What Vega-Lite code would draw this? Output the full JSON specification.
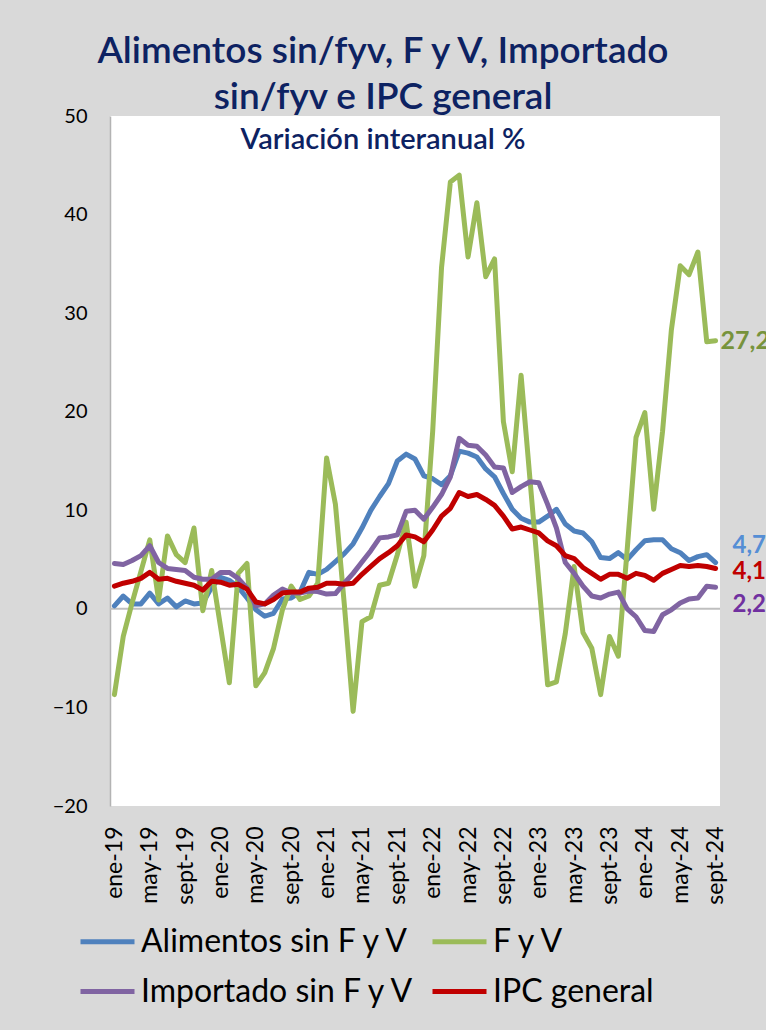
{
  "$schema": "https://vega.github.io/schema/vega-lite/v6.json",
  "width": 610,
  "height": 690,
  "autosize": {"type": "none"},
  "padding": {"left": 110, "top": 116, "right": 46, "bottom": 224},
  "background": "#d9d9d9",
  "config": {
    "view": {"fill": "white", "stroke": null},
    "font": "Lato",
    "locale": {"number": {"decimal": ",", "thousands": ".", "grouping": [3], "currency": ["", " €"]}}
  },
  "title": {
    "text": ["Alimentos sin/fyv, F y V, Importado", "sin/fyv e IPC general"],
    "subtitle": "Variación interanual %",
    "anchor": "middle",
    "dx": -32,
    "offset": -50,
    "font": "Lato",
    "fontSize": 37,
    "fontWeight": 600,
    "color": "#0d2262",
    "lineHeight": 46,
    "subtitleFont": "Lato",
    "subtitleFontSize": 29,
    "subtitleFontWeight": 600,
    "subtitleColor": "#0d2262",
    "subtitlePadding": 9
  },
  "data": {"values": [
    {"mes": "ene-19", "alimentos": 0.3, "fyv": -8.7, "importado": 4.6, "ipc": 2.3},
    {"mes": "feb-19", "alimentos": 1.3, "fyv": -2.8, "importado": 4.5, "ipc": 2.6},
    {"mes": "mar-19", "alimentos": 0.5, "fyv": 0.6, "importado": 4.9, "ipc": 2.8},
    {"mes": "abr-19", "alimentos": 0.5, "fyv": 3.8, "importado": 5.4, "ipc": 3.1},
    {"mes": "may-19", "alimentos": 1.6, "fyv": 7.0, "importado": 6.4, "ipc": 3.7},
    {"mes": "jun-19", "alimentos": 0.5, "fyv": 0.9, "importado": 4.7, "ipc": 3.0},
    {"mes": "jul-19", "alimentos": 1.1, "fyv": 7.4, "importado": 4.1, "ipc": 3.1},
    {"mes": "ago-19", "alimentos": 0.2, "fyv": 5.5, "importado": 4.0, "ipc": 2.8},
    {"mes": "sept-19", "alimentos": 0.8, "fyv": 4.7, "importado": 3.9, "ipc": 2.6},
    {"mes": "oct-19", "alimentos": 0.5, "fyv": 8.2, "importado": 3.2, "ipc": 2.4},
    {"mes": "nov-19", "alimentos": 0.6, "fyv": -0.2, "importado": 3.0, "ipc": 1.9},
    {"mes": "dic-19", "alimentos": 2.2, "fyv": 3.9, "importado": 3.0, "ipc": 2.8},
    {"mes": "ene-20", "alimentos": 3.2, "fyv": -1.8, "importado": 3.7, "ipc": 2.7},
    {"mes": "feb-20", "alimentos": 2.9, "fyv": -7.5, "importado": 3.7, "ipc": 2.4},
    {"mes": "mar-20", "alimentos": 2.2, "fyv": 3.6, "importado": 3.1, "ipc": 2.5},
    {"mes": "abr-20", "alimentos": 1.1, "fyv": 4.6, "importado": 2.1, "ipc": 2.0},
    {"mes": "may-20", "alimentos": -0.1, "fyv": -7.8, "importado": 0.3, "ipc": 0.7},
    {"mes": "jun-20", "alimentos": -0.75, "fyv": -6.5, "importado": 0.5, "ipc": 0.5},
    {"mes": "jul-20", "alimentos": -0.45, "fyv": -4.0, "importado": 1.4, "ipc": 0.95},
    {"mes": "ago-20", "alimentos": 1.0, "fyv": -0.1, "importado": 2.0, "ipc": 1.6},
    {"mes": "sept-20", "alimentos": 1.1, "fyv": 2.3, "importado": 1.6, "ipc": 1.7},
    {"mes": "oct-20", "alimentos": 1.7, "fyv": 0.95, "importado": 1.6, "ipc": 1.7},
    {"mes": "nov-20", "alimentos": 3.7, "fyv": 1.3, "importado": 1.8, "ipc": 2.1},
    {"mes": "dic-20", "alimentos": 3.5, "fyv": 2.6, "importado": 1.75, "ipc": 2.2},
    {"mes": "ene-21", "alimentos": 4.0, "fyv": 15.3, "importado": 1.5, "ipc": 2.6},
    {"mes": "feb-21", "alimentos": 4.8, "fyv": 10.6, "importado": 1.55, "ipc": 2.6},
    {"mes": "mar-21", "alimentos": 5.6, "fyv": 0.5, "importado": 2.6, "ipc": 2.5},
    {"mes": "abr-21", "alimentos": 6.6, "fyv": -10.4, "importado": 3.6, "ipc": 2.6},
    {"mes": "may-21", "alimentos": 8.2, "fyv": -1.3, "importado": 4.75, "ipc": 3.5},
    {"mes": "jun-21", "alimentos": 10.0, "fyv": -0.8, "importado": 5.9, "ipc": 4.3},
    {"mes": "jul-21", "alimentos": 11.4, "fyv": 2.4, "importado": 7.2, "ipc": 5.1},
    {"mes": "ago-21", "alimentos": 12.7, "fyv": 2.6, "importado": 7.3, "ipc": 5.7},
    {"mes": "sept-21", "alimentos": 15.0, "fyv": 5.5, "importado": 7.5, "ipc": 6.4},
    {"mes": "oct-21", "alimentos": 15.7, "fyv": 8.8, "importado": 9.9, "ipc": 7.5},
    {"mes": "nov-21", "alimentos": 15.2, "fyv": 2.3, "importado": 10.0, "ipc": 7.3},
    {"mes": "dic-21", "alimentos": 13.5, "fyv": 5.4, "importado": 9.1, "ipc": 6.8},
    {"mes": "ene-22", "alimentos": 13.2, "fyv": 18.0, "importado": 10.3, "ipc": 8.0},
    {"mes": "feb-22", "alimentos": 12.6, "fyv": 34.6, "importado": 11.6, "ipc": 9.4},
    {"mes": "mar-22", "alimentos": 13.5, "fyv": 43.3, "importado": 13.4, "ipc": 10.2},
    {"mes": "abr-22", "alimentos": 16.0, "fyv": 44.0, "importado": 17.3, "ipc": 11.8},
    {"mes": "may-22", "alimentos": 15.8, "fyv": 35.7, "importado": 16.6, "ipc": 11.4},
    {"mes": "jun-22", "alimentos": 15.4, "fyv": 41.2, "importado": 16.5, "ipc": 11.6},
    {"mes": "jul-22", "alimentos": 14.2, "fyv": 33.7, "importado": 15.6, "ipc": 11.1},
    {"mes": "ago-22", "alimentos": 13.4, "fyv": 35.5, "importado": 14.4, "ipc": 10.5},
    {"mes": "sept-22", "alimentos": 11.7, "fyv": 19.0, "importado": 14.3, "ipc": 9.4},
    {"mes": "oct-22", "alimentos": 10.1, "fyv": 13.9, "importado": 11.8, "ipc": 8.1},
    {"mes": "nov-22", "alimentos": 9.2, "fyv": 23.7, "importado": 12.4, "ipc": 8.3},
    {"mes": "dic-22", "alimentos": 8.8, "fyv": 13.2, "importado": 12.9, "ipc": 8.0},
    {"mes": "ene-23", "alimentos": 8.8, "fyv": 2.8, "importado": 12.8, "ipc": 7.7},
    {"mes": "feb-23", "alimentos": 9.4, "fyv": -7.7, "importado": 10.6, "ipc": 6.9},
    {"mes": "mar-23", "alimentos": 10.1, "fyv": -7.4, "importado": 8.2, "ipc": 6.4},
    {"mes": "abr-23", "alimentos": 8.6, "fyv": -2.5, "importado": 4.7, "ipc": 5.4},
    {"mes": "may-23", "alimentos": 7.9, "fyv": 4.3, "importado": 3.6, "ipc": 5.1},
    {"mes": "jun-23", "alimentos": 7.7, "fyv": -2.4, "importado": 2.3, "ipc": 4.2},
    {"mes": "jul-23", "alimentos": 6.8, "fyv": -4.0, "importado": 1.3, "ipc": 3.6},
    {"mes": "ago-23", "alimentos": 5.2, "fyv": -8.7, "importado": 1.1, "ipc": 3.0},
    {"mes": "sept-23", "alimentos": 5.1, "fyv": -2.8, "importado": 1.5, "ipc": 3.5},
    {"mes": "oct-23", "alimentos": 5.7, "fyv": -4.8, "importado": 1.7, "ipc": 3.5},
    {"mes": "nov-23", "alimentos": 5.0, "fyv": 6.0, "importado": 0.0, "ipc": 3.1},
    {"mes": "dic-23", "alimentos": 6.0, "fyv": 17.4, "importado": -0.8, "ipc": 3.6},
    {"mes": "ene-24", "alimentos": 6.9, "fyv": 19.9, "importado": -2.2, "ipc": 3.4},
    {"mes": "feb-24", "alimentos": 7.0, "fyv": 10.1, "importado": -2.3, "ipc": 2.9},
    {"mes": "mar-24", "alimentos": 7.0, "fyv": 18.0, "importado": -0.6, "ipc": 3.6},
    {"mes": "abr-24", "alimentos": 6.1, "fyv": 28.3, "importado": -0.1, "ipc": 4.0},
    {"mes": "may-24", "alimentos": 5.7, "fyv": 34.8, "importado": 0.6, "ipc": 4.4},
    {"mes": "jun-24", "alimentos": 4.9, "fyv": 33.9, "importado": 1.0, "ipc": 4.3},
    {"mes": "jul-24", "alimentos": 5.3, "fyv": 36.2, "importado": 1.1, "ipc": 4.4},
    {"mes": "ago-24", "alimentos": 5.5, "fyv": 27.1, "importado": 2.3, "ipc": 4.3},
    {"mes": "sept-24", "alimentos": 4.7, "fyv": 27.2, "importado": 2.2, "ipc": 4.1}
  ]},
  "transform": [
    {"fold": ["alimentos", "fyv", "importado", "ipc"], "as": ["serie", "valor"]}
  ],
  "layer": [
    {
      "data": {"values": [{}]},
      "mark": {"type": "rule", "color": "#bfbfbf", "strokeWidth": 2},
      "encoding": {"y": {"datum": 0, "type": "quantitative"}}
    },
    {
      "mark": {"type": "line", "strokeWidth": 5, "strokeJoin": "round", "strokeCap": "round"},
      "encoding": {
        "x": {
          "field": "mes", "type": "ordinal", "sort": null,
          "scale": {"type": "point", "padding": 0.5},
          "axis": {
            "title": null,
            "values": ["ene-19", "may-19", "sept-19", "ene-20", "may-20", "sept-20", "ene-21", "may-21", "sept-21", "ene-22", "may-22", "sept-22", "ene-23", "may-23", "sept-23", "ene-24", "may-24", "sept-24"],
            "labelAngle": -90,
            "labelFont": "Lato",
            "labelFontSize": 23,
            "labelColor": "black",
            "labelPadding": 20,
            "domain": false,
            "ticks": false,
            "tickSize": 0,
            "grid": false
          }
        },
        "y": {
          "field": "valor", "type": "quantitative",
          "scale": {"domain": [-20, 50], "nice": false, "zero": false},
          "axis": {
            "title": null,
            "values": [-20, -10, 0, 10, 20, 30, 40, 50],
            "labelFont": "Lato",
            "labelFontSize": 20,
            "labelColor": "black",
            "labelPadding": 23,
            "ticks": false,
            "tickSize": 0,
            "grid": false,
            "domainColor": "#b3b3b3",
            "domainWidth": 1.5
          }
        },
        "color": {
          "field": "serie", "type": "nominal",
          "scale": {"domain": ["alimentos", "fyv", "importado", "ipc"], "range": ["#4f81bd", "#9bbb59", "#8064a2", "#c00000"]},
          "legend": {
            "title": null,
            "orient": "none",
            "legendX": -32,
            "legendY": 796,
            "columns": 2,
            "direction": "horizontal",
            "symbolType": "stroke",
            "symbolSize": 2916,
            "symbolStrokeWidth": 5,
            "labelFont": "Lato",
            "labelFontSize": 32,
            "labelColor": "black",
            "labelOffset": 4,
            "labelLimit": 500,
            "rowPadding": 4,
            "columnPadding": 6,
            "labelExpr": "datum.label == 'alimentos' ? 'Alimentos sin F y V' : datum.label == 'fyv' ? 'F y V' : datum.label == 'importado' ? 'Importado sin F y V' : 'IPC general'"
          }
        }
      }
    },
    {
      "transform": [{"filter": "datum.mes == 'sept-24' && datum.serie == 'fyv'"}],
      "mark": {"type": "text", "align": "left", "baseline": "middle", "dx": 5, "dy": 0, "fontSize": 25, "fontWeight": "bold", "font": "Lato", "color": "#77933c", "clip": false},
      "encoding": {
        "x": {"field": "mes", "type": "ordinal", "sort": null},
        "y": {"field": "valor", "type": "quantitative"},
        "text": {"field": "valor", "type": "quantitative", "format": ".1f"}
      }
    },
    {
      "transform": [{"filter": "datum.mes == 'sept-24' && datum.serie == 'alimentos'"}],
      "mark": {"type": "text", "align": "left", "baseline": "middle", "dx": 17, "dy": -17, "fontSize": 24, "fontWeight": "bold", "font": "Lato", "color": "#558ed5", "clip": false},
      "encoding": {
        "x": {"field": "mes", "type": "ordinal", "sort": null},
        "y": {"field": "valor", "type": "quantitative"},
        "text": {"field": "valor", "type": "quantitative", "format": ".1f"}
      }
    },
    {
      "transform": [{"filter": "datum.mes == 'sept-24' && datum.serie == 'ipc'"}],
      "mark": {"type": "text", "align": "left", "baseline": "middle", "dx": 17, "dy": 4, "fontSize": 24, "fontWeight": "bold", "font": "Lato", "color": "#c00000", "clip": false},
      "encoding": {
        "x": {"field": "mes", "type": "ordinal", "sort": null},
        "y": {"field": "valor", "type": "quantitative"},
        "text": {"field": "valor", "type": "quantitative", "format": ".1f"}
      }
    },
    {
      "transform": [{"filter": "datum.mes == 'sept-24' && datum.serie == 'importado'"}],
      "mark": {"type": "text", "align": "left", "baseline": "middle", "dx": 17, "dy": 18, "fontSize": 24, "fontWeight": "bold", "font": "Lato", "color": "#7030a0", "clip": false},
      "encoding": {
        "x": {"field": "mes", "type": "ordinal", "sort": null},
        "y": {"field": "valor", "type": "quantitative"},
        "text": {"field": "valor", "type": "quantitative", "format": ".1f"}
      }
    }
  ]
}
